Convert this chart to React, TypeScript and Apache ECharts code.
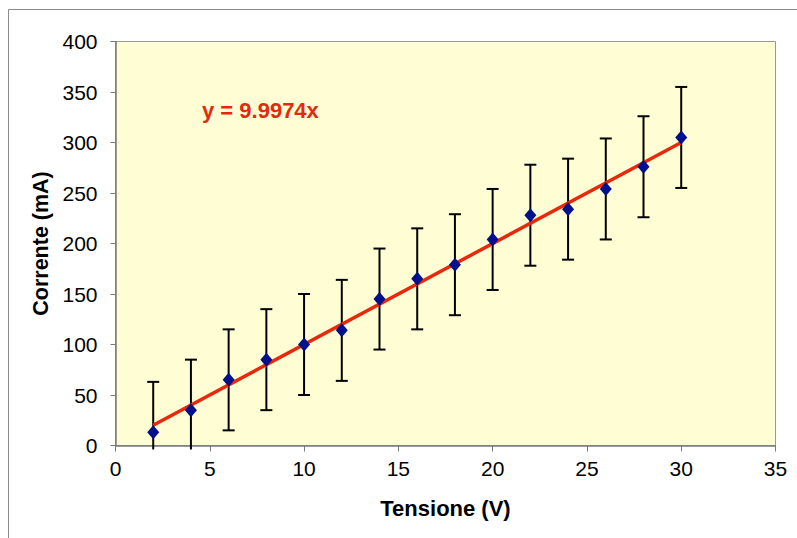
import React, { useEffect, useRef } from "react";
import * as echarts from "echarts";

const voltages = [2, 4, 6, 8, 10, 12, 14, 16, 18, 20, 22, 24, 26, 28, 30];
const currents = [13, 35, 65, 85, 100, 114, 145, 165, 179, 204, 228, 234, 254, 276, 305];
const errors = [50, 50, 50, 50, 50, 50, 50, 50, 50, 50, 50, 50, 50, 50, 50];
const slope = 9.9974;
const xTicks = [0, 5, 10, 15, 20, 25, 30, 35];
const yTicks = [0, 50, 100, 150, 200, 250, 300, 350, 400];

export default function App() {
  const ref = useRef<HTMLDivElement>(null);
  useEffect(() => {
    if (!ref.current) return;
    const chart = echarts.init(ref.current, null, { renderer: "svg" });
    const font = "'Liberation Sans', Arial, sans-serif";
    const errData = voltages.map((v, i) => [v, currents[i] - errors[i], currents[i] + errors[i]]);
    const xMin = voltages[0];
    const xMax = voltages[voltages.length - 1];
    chart.setOption({
      animation: false,
      backgroundColor: "#ffffff",
      textStyle: { fontFamily: font },
      graphic: [
        {
          type: "rect",
          shape: { x: 8.5, y: 9.5, width: 820, height: 600 },
          style: { fill: "none", stroke: "#8a8a8a", lineWidth: 1 },
          z: 0,
        },
        {
          type: "text",
          left: 202,
          top: 99,
          style: {
            text: "y = 9.9974x",
            fill: "#E5290F",
            font: `bold 22px ${font}`,
          },
          z: 10,
        },
      ],
      grid: {
        left: 115.5,
        top: 41.5,
        right: 21.5,
        bottom: 92.5,
        show: true,
        backgroundColor: "#FFFDD3",
        borderColor: "#9a9a9a",
        borderWidth: 1,
      },
      xAxis: {
        type: "value",
        min: xTicks[0],
        max: xTicks[xTicks.length - 1],
        interval: 5,
        name: "Tensione (V)",
        nameLocation: "middle",
        nameGap: 52,
        nameTextStyle: { fontSize: 22, fontWeight: "bold", color: "#000", fontFamily: font },
        axisLine: { show: true, lineStyle: { color: "#7a7a7a", width: 1.5 } },
        axisTick: { show: true, inside: false, length: 6, lineStyle: { color: "#7a7a7a" } },
        axisLabel: { fontSize: 21, color: "#000", margin: 12, fontFamily: font },
        splitLine: { show: false },
      },
      yAxis: {
        type: "value",
        min: yTicks[0],
        max: yTicks[yTicks.length - 1],
        interval: 50,
        name: "Corrente (mA)",
        nameLocation: "middle",
        nameGap: 61,
        nameTextStyle: { fontSize: 21.5, fontWeight: "bold", color: "#000", fontFamily: font },
        axisLine: { show: true, lineStyle: { color: "#7a7a7a", width: 1.5 } },
        axisTick: { show: true, inside: false, length: 5, lineStyle: { color: "#7a7a7a" } },
        axisLabel: { fontSize: 21, color: "#000", margin: 18, fontFamily: font },
        splitLine: { show: false },
      },
      series: [
        {
          type: "custom",
          name: "errors",
          z: 1,
          data: errData,
          renderItem: (params: any, api: any) => {
            const x = api.value(0);
            const loVal = api.value(1);
            const clipped = loVal < 0;
            const lo = api.coord([x, clipped ? 0 : loVal]);
            const hi = api.coord([x, api.value(2)]);
            const hw = 6;
            const st = { stroke: "#000", lineWidth: 2 };
            const children: any[] = [
              { type: "line", shape: { x1: lo[0], y1: clipped ? lo[1] + 4 : lo[1], x2: hi[0], y2: hi[1] }, style: st },
              { type: "line", shape: { x1: hi[0] - hw, y1: hi[1], x2: hi[0] + hw, y2: hi[1] }, style: st },
            ];
            if (!clipped) {
              children.push({ type: "line", shape: { x1: lo[0] - hw, y1: lo[1], x2: lo[0] + hw, y2: lo[1] }, style: st });
            }
            return { type: "group", children };
          },
          clip: false,
        },
        {
          type: "line",
          name: "trend",
          z: 2,
          symbol: "none",
          data: [
            [xMin, slope * xMin],
            [xMax, slope * xMax],
          ],
          lineStyle: { color: "#E8280C", width: 3.5 },
        },
        {
          type: "scatter",
          name: "data",
          z: 3,
          symbol: "diamond",
          symbolSize: [12, 14],
          data: voltages.map((v, i) => [v, currents[i]]),
          itemStyle: { color: "#00108C", opacity: 1 },
        },
      ],
    });
    return () => chart.dispose();
  }, []);
  return <div ref={ref} style={{ position: "fixed", left: 0, top: 0, width: 797, height: 538 }} />;
}
